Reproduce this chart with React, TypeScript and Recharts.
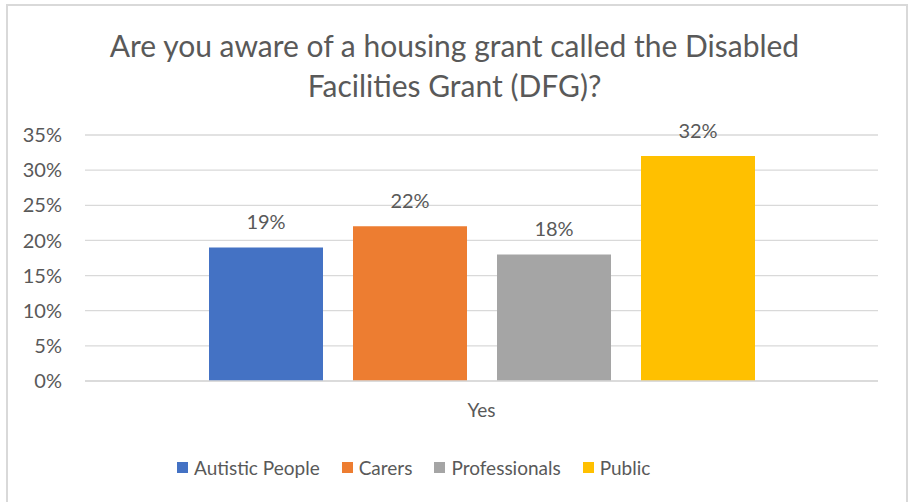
import React from 'react';
import { BarChart, Bar, XAxis, YAxis, CartesianGrid, Legend, LabelList } from 'recharts';

const categories = ['Yes'];
const seriesNames = ['Autistic People', 'Carers', 'Professionals', 'Public'];
const seriesValues = [[19], [22], [18], [32]];
const seriesColors = ['#4472C4', '#ED7D31', '#A5A5A5', '#FFC000'];
const yTicks = [0, 5, 10, 15, 20, 25, 30, 35];
const titleLines = ['Are you aware of a housing grant called the Disabled', 'Facilities Grant (DFG)?'];

const data = categories.map((c, i) => {
  const row: Record<string, string | number> = { category: c };
  seriesNames.forEach((s, j) => {
    row[s] = seriesValues[j][i];
  });
  return row;
});

const FONT = 'Lato, "Open Sans", sans-serif';
const TEXT = '#595959';

const LegendContent = (props: any) => {
  const { payload } = props;
  return (
    <div style={{ display: 'flex', justifyContent: 'flex-start', paddingLeft: 177, height: 24, alignItems: 'center', fontFamily: FONT, fontSize: 19, color: TEXT }}>
      {(payload || []).map((p: any, i: number) => (
        <div key={i} style={{ display: 'flex', alignItems: 'center', marginRight: i < payload.length - 1 ? 22 : 0 }}>
          <span style={{ width: 11, height: 11, background: p.color, display: 'inline-block', marginRight: 6 }} />
          <span>{p.value}</span>
        </div>
      ))}
    </div>
  );
};

export default function App() {
  return (
    <div style={{ position: 'absolute', left: 0, top: 0, width: 909, height: 502, background: '#fff', overflow: 'hidden' }}>
      <div style={{ position: 'absolute', left: 6, top: 4, width: 902, height: 520, border: '2px solid #d9d9d9', boxSizing: 'border-box' }} />
      <div style={{ position: 'absolute', left: 0, top: 25, width: 909, textAlign: 'center', fontFamily: FONT, fontSize: 30, color: TEXT, lineHeight: '40px' }}>
        {titleLines.map((l, i) => (
          <div key={i}>{l}</div>
        ))}
      </div>
      <div style={{ position: 'absolute', left: 0, top: 0 }}>
        <BarChart width={909} height={502} data={data} margin={{ top: 135, right: 31, left: 0, bottom: 0 }} barSize={114} barGap={30}>
          <CartesianGrid vertical={false} stroke="#d9d9d9" strokeWidth={1.3} />
          <XAxis dataKey="category" height={97} tickLine={false} tickSize={0} tickMargin={23} axisLine={{ stroke: '#d9d9d9', strokeWidth: 1.3 }} tick={{ fill: TEXT, fontSize: 19, fontFamily: FONT }} />
          <YAxis width={85} domain={[0, 35]} ticks={yTicks} interval={0} tickLine={false} axisLine={false} tickSize={0} tickMargin={23} tickFormatter={(v: number) => `${v}%`} tick={{ fill: TEXT, fontSize: 20, fontFamily: FONT }} />
          <Legend content={<LegendContent />} wrapperStyle={{ position: 'absolute', top: 455, left: 0, width: 909, bottom: 'auto' }} />
          {seriesNames.map((s, j) => (
            <Bar key={s} dataKey={s} fill={seriesColors[j]} isAnimationActive={false}>
              <LabelList dataKey={s} position="top" offset={18} formatter={(v: any) => `${v}%`} style={{ fill: TEXT, fontSize: 20, fontFamily: FONT }} />
            </Bar>
          ))}
        </BarChart>
      </div>
    </div>
  );
}
